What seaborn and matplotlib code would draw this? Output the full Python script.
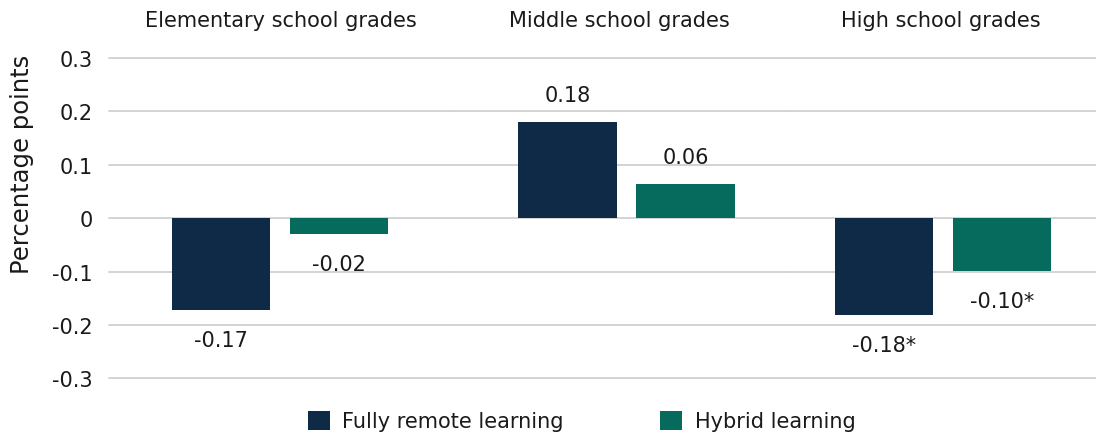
import numpy as np
import pandas as pd
import matplotlib
matplotlib.use("Agg")
import matplotlib.pyplot as plt
import seaborn as sns
from matplotlib.patches import Patch

# ---- data ----
grades = ["Elementary school grades", "Middle school grades", "High school grades"]
modes = ["Fully remote learning", "Hybrid learning"]
remote = [-0.172, 0.180, -0.182]
hybrid = [-0.029, 0.064, -0.099]
remote_labels = ["-0.17", "0.18", "-0.18*"]
hybrid_labels = ["-0.02", "0.06", "-0.10*"]
yticks = [-0.3, -0.2, -0.1, 0, 0.1, 0.2, 0.3]
ytick_labels = ["-0.3", "-0.2", "-0.1", "0", "0.1", "0.2", "0.3"]

df = pd.DataFrame({
    "grade": grades * 2,
    "mode": [modes[0]] * 3 + [modes[1]] * 3,
    "value": remote + hybrid,
})

sns.set_style("white")
plt.rcParams["font.family"] = ["DejaVu Sans"]
FS = 15
colors = {"Fully remote learning": "#0f2a47", "Hybrid learning": "#066b5c"}
grid_c = "#d0d0d0"
text_c = "#1a1a1a"

W, H = 1096, 435
fig = plt.figure(figsize=(W / 100, H / 100), dpi=100)
gs = fig.add_gridspec(1, 3, width_ratios=[344, 332, 311], wspace=0,
                      left=109 / W, right=1.0, top=1 - 59 / H, bottom=1 - 379.3 / H)
unit = 346.5
xlims = [(-171 / unit, 173 / unit), (-173.5 / unit, 158.5 / unit), (-158 / unit, 153 / unit)]
axes = []
for i, g in enumerate(grades):
    ax = fig.add_subplot(gs[0, i], sharey=axes[0] if axes else None)
    axes.append(ax)
    sub = df[df["grade"] == g]
    sns.barplot(data=sub, x="grade", y="value", hue="mode", hue_order=modes,
                palette=colors, width=236 / unit, gap=0.169, saturation=1,
                linewidth=0, legend=False, ax=ax)
    ax.set_xlim(*xlims[i])
    ax.set_ylim(-0.3, 0.3)
    for t in yticks:
        ax.axhline(t, color=grid_c, lw=1.3, zorder=0, clip_on=False)
    for sp in ax.spines.values():
        sp.set_visible(False)
    ax.set_xlabel("")
    ax.set_ylabel("")
    ax.set_xticks([])
    ax.set_yticks(yticks)
    if i == 0:
        ax.set_yticklabels(ytick_labels)
        ax.tick_params(axis="y", length=0, pad=11.5, labelsize=FS, labelcolor=text_c)
    else:
        ax.tick_params(axis="y", length=0, labelleft=False)
    for c, labs, vals in zip(ax.containers, [[remote_labels[i]], [hybrid_labels[i]]],
                             [remote[i], hybrid[i]]):
        pad = 12 if vals > 0 else 14.5
        ax.bar_label(c, labels=labs, padding=pad, fontsize=FS, color=text_c)
    ax.annotate(g, xy=(0.5, 1), xycoords="axes fraction", xytext=(0, 38 * 0.72),
                textcoords="offset points", ha="center", va="center",
                fontsize=FS, color=text_c)

fig.text(22 / W, 1 - 164 / H, "Percentage points", rotation=90, ha="center",
         va="center", fontsize=17.5, color=text_c)

handles = [Patch(facecolor=colors[m], edgecolor="none", label=m) for m in modes]
fig.legend(handles=handles, loc="center", bbox_to_anchor=(581.5 / W, 1 - 422 / H),
           ncol=2, frameon=False, fontsize=FS, handlelength=1.05, handleheight=1.05,
           handletextpad=0.62, columnspacing=4.6, labelcolor=text_c)

fig.savefig("out.png", dpi=100)
